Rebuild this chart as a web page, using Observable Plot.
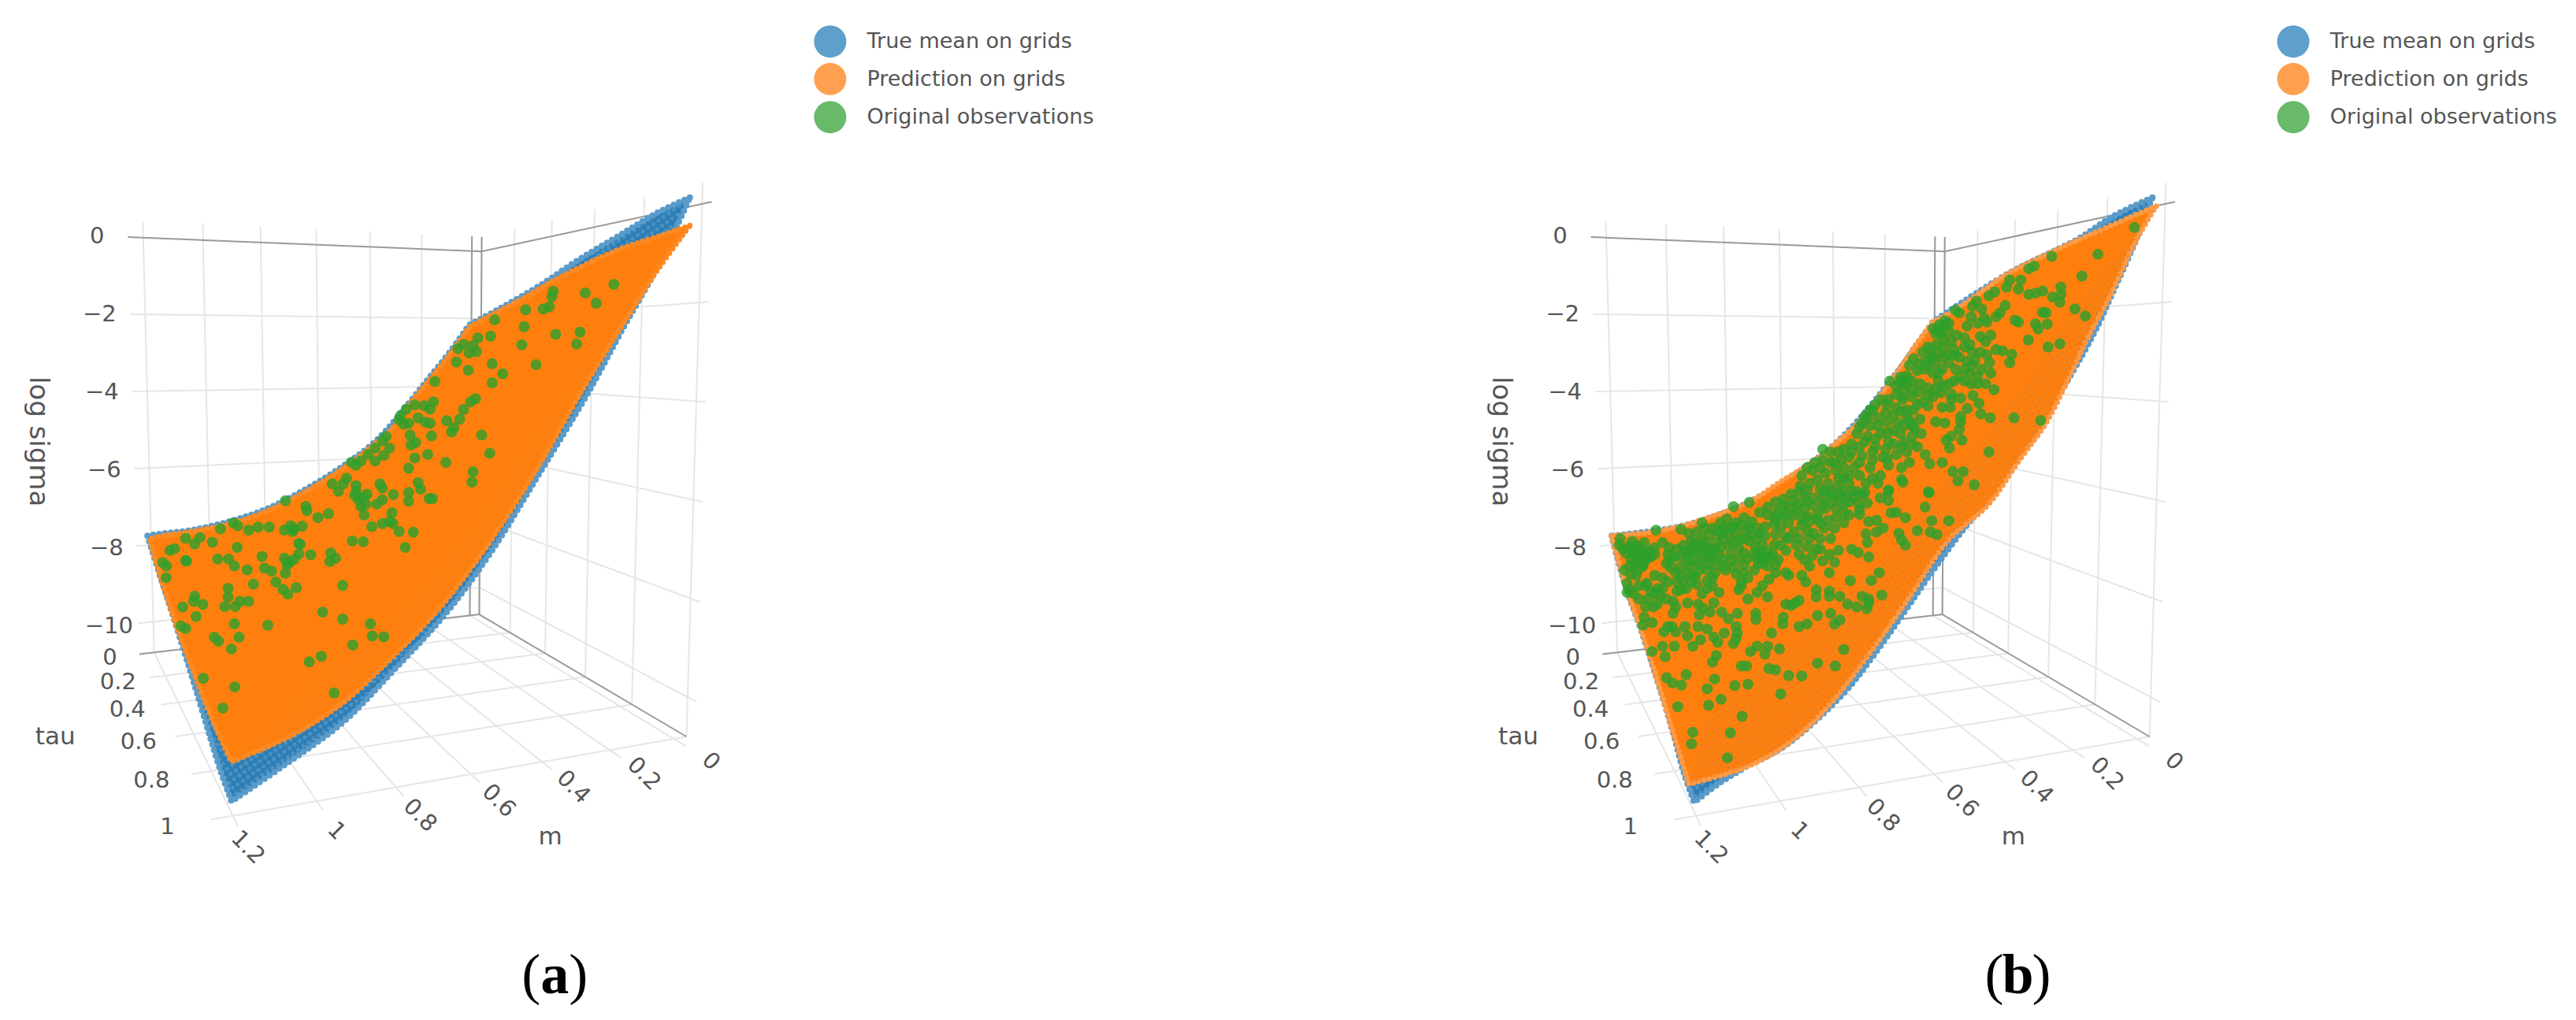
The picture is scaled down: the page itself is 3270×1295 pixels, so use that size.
<!DOCTYPE html>
<html><head><meta charset="utf-8">
<script src="https://cdn.jsdelivr.net/npm/d3@7"></script>
<script src="https://cdn.jsdelivr.net/npm/@observablehq/plot@0.6"></script>
<style>html,body{margin:0;background:#fff;overflow:hidden}#c{display:flex;width:3270px;height:1295px}svg{display:block;flex:none}</style>
</head><body><div id="c"></div>
<script>
const mTicks=[0,0.2,0.4,0.6,0.8,1,1.2];
const tauTicks=[0,0.2,0.4,0.6,0.8,1];
const zTicks=[0,-2,-4,-6,-8,-10];
const legendNames=["True mean on grids","Prediction on grids","Original observations"];
// Outlines and observations: positions on the view plane of the 3D scene
const blueA=[[1444,55],[1444,55],[1375,91],[1292,146],[1210,200],[1127,261],[1045,313],[982,350],[982,350],[940,415],[900,470],[860,525],[790,615],[720,675],[640,730],[560,775],[480,805],[400,825],[340,833],[308,838],[308,838],[340,950],[372,1060],[407,1185],[440,1307],[462,1385],[484,1453],[484,1453],[605,1361],[715,1272],[825,1148],[935,1015],[1028,875],[1130,692],[1232,505],[1303,360],[1381,206],[1444,55],[1444,55]];
const orangeA=[[1444,120],[1444,120],[1375,146],[1292,177],[1166,243],[1089,292],[1006,340],[982,355],[982,355],[940,420],[900,475],[860,530],[820,590],[790,620],[720,680],[640,735],[560,780],[480,810],[400,828],[340,838],[312,845],[312,845],[340,950],[370,1050],[410,1170],[450,1280],[484,1361],[484,1361],[605,1303],[715,1227],[825,1115],[918,1008],[1011,875],[1120,690],[1221,497],[1320,320],[1375,225],[1444,120],[1444,120]];
const blueB=[[1455,55],[1455,55],[1370,100],[1303,149],[1260,173],[1150,233],[995,343],[995,343],[920,460],[790,625],[610,760],[470,815],[322,838],[322,838],[350,950],[385,1060],[420,1180],[450,1290],[473,1385],[495,1455],[495,1455],[545,1413],[599,1376],[688,1322],[808,1203],[869,1118],[935,1015],[985,935],[1040,851],[1111,750],[1232,560],[1330,375],[1374,270],[1419,158],[1455,55],[1455,55]];
const orangeB=[[1463,75],[1463,75],[1254,176],[1150,233],[1089,279],[1040,316],[995,343],[995,343],[960,395],[920,460],[880,520],[840,575],[790,625],[740,670],[680,710],[610,760],[540,790],[470,815],[400,830],[322,838],[322,838],[350,950],[385,1060],[420,1180],[450,1290],[484,1413],[484,1413],[605,1373],[688,1322],[770,1240],[853,1125],[940,990],[1028,848],[1111,766],[1177,662],[1232,577],[1282,468],[1320,379],[1365,286],[1419,158],[1463,75],[1463,75]];
const orangeGrainB=[[1463,75],[1300,300],[1180,500],[1060,660],[950,820],[800,1000],[650,1130],[520,1260],[484,1413],[605,1373],[688,1322],[770,1240],[853,1125],[940,990],[1028,848],[1111,766],[1177,662],[1232,577],[1282,468],[1320,379],[1365,286],[1419,158],[1463,75]];
const orangeGrainA=[[1444,120],[1300,300],[1180,500],[1060,680],[950,850],[800,1030],[650,1170],[484,1361],[605,1303],[715,1227],[825,1115],[918,1008],[1011,875],[1120,690],[1221,497],[1320,320],[1375,225],[1444,120]];
const obsA=[[1285,256],[1225,276],[1248,300],[1158,272],[1155,285],[1150,308],[1137,313],[1100,315],[1097,354],[1035,338],[1027,376],[1000,380],[1163,372],[1214,367],[1207,394],[1092,396],[1122,442],[990,398],[970,395],[958,405],[997,412],[982,415],[955,436],[980,455],[1030,440],[1052,463],[1030,484],[910,481],[995,521],[985,528],[970,546],[962,568],[950,588],[945,598],[935,572],[907,528],[900,545],[888,537],[868,535],[850,545],[838,560],[835,570],[845,580],[855,578],[875,565],[890,575],[900,578],[903,607],[858,605],[870,622],[860,628],[808,608],[800,618],[815,635],[803,652],[785,635],[770,650],[755,665],[735,668],[745,675],[785,665],[895,650],[868,658],[855,682],[933,668],[1008,605],[1025,647],[990,690],[988,714],[875,715],[880,730],[855,738],[855,758],[905,752],[898,752],[823,743],[795,718],[800,728],[800,755],[788,765],[768,742],[760,750],[745,722],[745,735],[742,745],[750,755],[765,765],[755,770],[725,705],[718,718],[695,718],[708,735],[597,757],[640,770],[642,780],[665,796],[687,787],[820,785],[762,790],[800,810],[778,817],[815,805],[822,810],[835,828],[865,830],[848,865],[760,852],[737,850],[632,816],[615,822],[608,815],[595,825],[612,828],[488,808],[497,815],[461,822],[520,825],[540,818],[563,818],[388,844],[418,842],[407,857],[444,853],[365,868],[355,872],[340,900],[348,908],[347,935],[388,895],[390,897],[455,892],[478,892],[496,865],[490,908],[517,917],[548,886],[553,913],[568,920],[625,856],[628,858],[625,880],[650,882],[595,890],[605,900],[615,893],[600,905],[597,925],[692,878],[690,898],[702,890],[530,950],[577,945],[620,958],[592,962],[602,973],[717,953],[477,960],[477,980],[407,978],[405,990],[424,997],[382,1003],[470,1002],[492,1002],[502,990],[520,990],[410,1025],[378,1047],[388,1053],[490,1042],[560,1045],[675,1015],[717,1031],[775,1042],[779,1070],[803,1072],[738,1091],[500,1073],[448,1073],[457,1082],[484,1100],[672,1117],[647,1130],[425,1168],[491,1188],[466,1237],[699,1202]];
// panel (b), lower part of the surface, in full-size pixels ×3 from (2000,620)
const obsBLower=[[168,190],[165,215],[305,158],[400,155],[480,130],[600,68],[660,52],[430,170],[460,165],[490,150],[520,150],[550,130],[575,115],[610,130],[640,110],[670,125],[700,90],[730,70],[760,50],[790,40],[820,20],[850,10],[880,5],[945,10],[1000,20],[1050,10],[1090,20],[1160,35],[1190,10],[880,50],[905,65],[940,60],[975,50],[1005,40],[1040,50],[1075,55],[1110,55],[1190,45],[1345,15],[1330,70],[730,100],[770,85],[810,70],[845,60],[830,100],[790,110],[760,120],[880,105],[920,95],[950,75],[990,75],[1020,90],[1040,100],[1080,98],[1115,125],[1145,120],[1200,92],[1220,90],[1255,110],[1355,122],[1420,122],[610,170],[650,160],[690,150],[720,145],[755,135],[810,130],[860,115],[890,125],[920,115],[945,150],[1105,172],[1145,165],[1170,150],[1230,170],[1300,160],[1350,165],[1375,175],[440,200],[480,190],[510,175],[550,170],[580,175],[620,195],[660,200],[690,190],[720,180],[760,175],[800,185],[850,190],[880,160],[905,170],[930,190],[970,190],[1110,205],[1240,195],[1255,215],[200,220],[230,215],[260,205],[190,245],[220,250],[250,245],[280,235],[300,225],[210,270],[240,275],[270,265],[300,250],[255,295],[225,290],[185,310],[210,325],[230,330],[195,360],[205,385],[195,395],[330,205],[355,225],[350,250],[385,230],[410,215],[440,225],[470,220],[500,225],[530,230],[545,250],[510,250],[470,250],[430,250],[400,260],[375,260],[345,285],[360,300],[380,320],[400,330],[430,320],[445,330],[465,290],[455,335],[500,285],[530,285],[560,270],[590,245],[580,215],[620,225],[640,245],[685,225],[710,215],[700,250],[730,240],[755,215],[690,265],[710,285],[680,310],[640,290],[600,300],[570,310],[530,320],[500,350],[520,370],[545,395],[460,365],[480,400],[420,380],[400,385],[385,390],[350,355],[330,380],[300,400],[270,360],[265,370],[345,420],[310,440],[265,450],[240,420],[260,490],[290,510],[255,520],[770,270],[800,235],[810,330],[800,320],[760,320],[735,345],[710,370],[690,395],[655,420],[630,350],[620,385],[630,370],[850,250],[880,220],[915,228],[940,275],[965,250],[985,280],[1000,235],[1050,230],[1075,243],[1115,260],[860,330],[875,355],[890,295],[965,320],[1045,350],[1125,350],[1155,320],[915,385],[915,412],[965,390],[965,410],[1005,410],[1035,440],[1070,450],[1090,410],[1115,420],[1115,435],[1108,457],[1165,405],[730,412],[370,430],[380,450],[370,475],[425,435],[465,440],[485,455],[470,480],[510,470],[525,435],[555,470],[580,495],[615,475],[685,475],[685,498],[800,440],[820,445],[835,435],[850,425],[790,490],[788,515],[880,515],[850,525],[920,483],[970,475],[985,515],[1005,500],[350,525],[335,545],[365,525],[380,545],[415,525],[425,560],[465,525],[500,535],[525,565],[475,575],[445,600],[540,585],[565,550],[610,525],[615,550],[610,570],[600,590],[375,600],[330,600],[290,620],[340,640],[745,550],[690,600],[665,620],[720,630],[730,600],[775,610],[1020,612],[535,635],[520,660],[630,675],[650,675],[735,685],[760,690],[810,712],[860,713],[920,665],[988,675],[345,720],[368,740],[420,708],[402,748],[528,725],[500,762],[605,750],[655,745],[780,782],[388,830],[505,825],[553,802],[633,867],[588,930],[445,928],[440,972],[577,1025],
[215,235],[245,228],[270,245],[285,260],[235,255],[205,295],[240,305],[260,280],[215,200],[180,230],[415,240],[445,240],[485,235],[515,240],[455,210],[495,205],[535,205],[425,275],[455,270],[490,265],[520,265],[550,225],[540,160],[565,150],[600,145],[630,140],[660,145],[585,150],[560,190],[600,205],[640,190],[670,175],[700,170],[680,245],[705,240],[720,260],[695,285],[715,265],[740,260],[655,265],[620,265],[590,275],[560,295],[610,325],[640,320],[655,340],[500,310],[470,310],[430,295],[395,300],[360,270],[410,350],[385,355],[440,355],[500,380],[520,340],[760,100],[800,95],[840,85],[870,75],[790,65],[830,45],[870,30],[905,35],[940,35],[970,25],[1020,60],[1060,30],[1030,30],[1080,80],[860,140],[830,165],[780,150],[840,215],[810,190],[780,215],[750,250],[730,295],[760,290],[930,130],[960,120],[990,110],[1020,130],[985,150],[890,190],[930,230],[870,270],[900,255],[300,330],[285,390],[275,420],[310,380],[330,340],[295,450],[320,410],[240,370],[220,400]];
// panel (b), upper part of the surface, in full-size pixels ×3 from (2280,220)
const obsBUpper=[[1287,205],[1148,307],[1087,390],[972,315],[905,352],[885,362],[855,405],[812,405],[800,432],[845,440],[885,460],[910,455],[938,447],[1007,432],[1007,460],[975,470],[1003,490],[1060,515],[1100,542],[937,528],[950,530],[832,558],[845,565],[910,572],[955,573],[920,592],[883,633],[958,660],[1003,648],[755,450],[733,465],[795,502],[775,530],[760,545],[685,485],[670,505],[705,515],[620,530],[605,520],[665,545],[715,550],[690,570],[725,565],[650,580],[740,615],[565,560],[545,575],[520,590],[550,610],[580,600],[610,615],[640,625],[660,650],[700,620],[720,640],[760,670],[785,675],[820,688],[812,720],[500,660],[480,680],[445,705],[430,730],[510,700],[530,720],[560,660],[600,670],[620,700],[650,715],[680,710],[705,745],[735,720],[740,760],[690,770],[660,760],[605,745],[555,745],[520,760],[490,745],[460,750],[420,770],[395,775],[355,790],[380,810],[410,825],[470,800],[500,815],[540,790],[580,800],[620,775],[690,800],[720,800],[752,823],[672,845],[695,875],[650,895],[590,860],[550,835],[520,850],[480,870],[440,850],[400,850],[350,860],[320,860],[345,880],[380,890],[420,900],[460,880],[500,885],[555,890],[585,890],[702,915],[738,930],[828,930],[930,940],[625,925],[625,945],[530,945],[565,950],[620,975],[590,1000],[570,1015],[630,1015],[583,1045],[733,1060],[555,1100],[290,900],[260,925],[310,930],[345,945],[280,960],[240,965],[230,990],[270,1000],[320,990],[370,980],[410,960],[450,970],[475,990],[440,1000],[410,1020],[370,1030],[340,1050],[300,1040],[260,1020],[210,1030],[180,1050],[100,1050],[160,1060],[200,1080],[240,1100],[290,1090],[330,1080],[380,1070],[420,1060],[460,1040],[490,1070],[507,1105],[430,1100],[400,1120],[350,1110],[280,1120],[240,1150],[290,1160],[320,1150],[400,1165],[405,1175],[595,1135],[635,1135],[615,1170],[677,1185],[502,1212],[130,1100],[90,1120],[150,1130],[180,1160],[60,1130],[20,1150],[80,1165],[120,1180],[160,1190],[200,1180],[350,1205],[230,1210],[260,1215],
[540,590],[565,580],[580,570],[530,610],[560,630],[590,640],[535,650],[510,670],[540,680],[575,690],[605,690],[640,660],[670,680],[700,680],[725,690],[670,730],[640,745],[580,720],[560,700],[520,700],[490,715],[465,725],[500,730],[540,760],[395,795],[420,800],[440,790],[410,780],[380,840],[405,860],[440,825],[465,830],[500,845],[530,820],[560,810],[600,790],[640,790],[665,800],[590,840],[625,855],[445,900],[420,930],[400,905],[370,920],[340,910],[300,880],[280,900],[250,950],[270,930],[310,960],[345,985],[385,950],[430,940],[470,935],[440,960],[395,990],[350,1020],[300,1010],[240,1040],[210,1060],[170,1090],[130,1060],[100,1090],[70,1100],[40,1120],[110,1140],[145,1100],[180,1120],[220,1120],[250,1075],[290,1060],[345,1085],[400,1040],[440,1030],[265,1180],[310,1180],[200,1150],[160,1160],[50,1180],[90,1200],[15,1190],[130,1210],[175,1210]];
const SX=1.65, SY=1.823, W=1635, H=1295, TOP=220;
const fromCrop=(ox,oy)=>p=>[(ox+p[0]/3-1850)*SX,(oy+p[1]/3-TOP)*SY];
const obsB=[...obsBLower.map(fromCrop(2000,620)),...obsBUpper.map(fromCrop(2280,220))];

// Scene camera: m, tau and log sigma onto the view plane
const mMin=-0.04, mMax=1.2, zFloor=-10.8;
function project(m,tau,z){
  const s=(m-mMin)/(mMax-mMin), t=tau, w=(z-zFloor)/(0-zFloor);
  const den=1-0.10538*s-0.30146*t;
  const fx=-714.93*s+0.8*t+1003, fy=-28.76*s-109.8*t+1020;
  const tx=-740.5*s+18.8*t+1008, ty=-47.6*s-131.1*t+180;
  return [(fx*(1-w)+tx*w)/den,(fy*(1-w)+ty*w)/den];
}
const seg=(a,b)=>{const p=project(...a),q=project(...b);return {x1:p[0],y1:p[1],x2:q[0],y2:q[1]};};
const zTop=0.43;
const gridSegs=[
  ...mTicks.map(m=>seg([m,0,zFloor],[m,0,zTop])),
  ...tauTicks.map(t=>seg([mMin,t,zFloor],[mMin,t,zTop])),
  ...zTicks.slice(1).map(z=>seg([1.25,0,z],[mMin,0,z])),
  ...zTicks.slice(1).map(z=>seg([mMin,0,z],[mMin,1.03,z])),
  ...mTicks.map(m=>seg([m,0,zFloor],[m,1.04,zFloor])),
  ...tauTicks.map(t=>seg([mMin,t,zFloor],[1.25,t,zFloor]))
];
const axisSegs=[
  seg([1.25,0,0],[mMin,0,0]),seg([mMin,0,0],[mMin,1.03,0]),
  seg([1.25,0,zFloor],[mMin,0,zFloor]),seg([mMin,0,zFloor],[mMin,1,zFloor]),
  seg([0,0,zFloor],[0,0,zTop]),seg([mMin,0,zFloor],[mMin,0,zTop])
];
const at=(p)=>({x:p[0],y:p[1]});
const fmt=v=>String(v).replace("-","\u2212");
const zLabels=zTicks.map(z=>({...at(project(1.2+0.12*1.24,0,z)),t:fmt(z)}));
const tauLabels=tauTicks.map(t=>({...at(project(1.2+0.12*1.24,t,zFloor)),t:fmt(t)}));
const mLabels=mTicks.map(m=>({...at(project(m,1.12,zFloor)),t:fmt(m)}));
const axisTitles=[{t:"log sigma",x:80,y:620,r:90,f:34},{t:"tau",x:115,y:1302,r:0,f:31},{t:"m",x:1152,y:1535,r:0,f:31}];
const legendX=1738, legendTextX=1815, legendYs=[-306,-219,-131];
const legendColors=["#5f9fcb","#ffa050","#68b968"];

function panel(originX,shift,blue,orange,grain,obs,letter){
  const sh=d=>d.map(r=>({...r,x:r.x+shift}));
  const shs=d=>d.map(r=>({...r,x1:r.x1+shift,x2:r.x2+shift}));
  const txt="#555";
  const font="DejaVu Sans";
  const legend=legendNames.map((n,i)=>({n,c:legendColors[i],x:legendX+shift,y:legendYs[i]}));
  const capX=1161+shift;
  const capY=1854;
  const id="p"+letter;
  const svg=Plot.plot({
    width:W,height:H,margin:0,
    style:{background:"#fff"},
    x:{axis:null,domain:[-originX*SX,(W-originX)*SX],range:[0,W]},
    y:{axis:null,domain:[-TOP*SY,(H-TOP)*SY],range:[0,H]},
    marks:[
      Plot.link(shs(gridSegs),{x1:"x1",y1:"y1",x2:"x2",y2:"y2",stroke:"#e6e6e6",strokeWidth:2}),
      Plot.link(shs(axisSegs),{x1:"x1",y1:"y1",x2:"x2",y2:"y2",stroke:"#9a9a9a",strokeWidth:2}),
      Plot.line(blue,{x:d=>d[0],y:d=>d[1],curve:"catmull-rom",fill:`url(#${id}blue)`,stroke:"none"}),
      Plot.line(blue,{x:d=>d[0],y:d=>d[1],curve:"catmull-rom",stroke:"#5a9bc9",strokeWidth:8,strokeDasharray:"0,7.5",strokeLinecap:"round"}),
      Plot.line(orange,{x:d=>d[0],y:d=>d[1],curve:"catmull-rom",fill:"#ff7f0e",stroke:"none"}),
      Plot.line(orange,{x:d=>d[0],y:d=>d[1],curve:"catmull-rom",stroke:letter=="b"?"#ff9a45":"#ff8a22",strokeWidth:7,strokeDasharray:"0,7",strokeLinecap:"round"}),
      Plot.line(grain,{x:d=>d[0],y:d=>d[1],fill:`url(#${id}grain)`,stroke:"none"}),
      Plot.dot(obs,{x:d=>d[0],y:d=>d[1],r:7,fill:"#2ca02c",fillOpacity:0.8,stroke:"none"}),
      Plot.text(sh(zLabels),{x:"x",y:"y",text:"t",fontSize:29,fontFamily:font,fill:txt}),
      Plot.text(sh(tauLabels),{x:"x",y:"y",text:"t",fontSize:29,fontFamily:font,fill:txt}),
      Plot.text(sh(mLabels),{x:"x",y:"y",text:"t",fontSize:29,fontFamily:font,fill:txt,rotate:45}),
      Plot.text(sh(axisTitles),{x:"x",y:"y",text:"t",rotate:"r",fontSize:"f",fontFamily:font,fill:txt}),
      Plot.dot(legend,{x:"x",y:"y",r:20.5,fill:"c"}),
      Plot.text(legend,{x:legendTextX+shift,y:"y",text:"n",textAnchor:"start",fontSize:27,fontFamily:font,fill:txt}),
      Plot.text([{t:"("}],{x:capX-49.5,y:capY,text:"t",fontSize:72,fontFamily:"Liberation Serif",fill:"#000"}),
      Plot.text([{t:letter}],{x:capX,y:capY,text:"t",fontSize:72,fontWeight:"bold",fontFamily:"Liberation Serif",fill:"#000"}),
      Plot.text([{t:")"}],{x:capX+49.5,y:capY,text:"t",fontSize:72,fontFamily:"Liberation Serif",fill:"#000"})
    ]
  });
  const grainOpacity=letter=="b"?0.75:0.22;
  const defs=d3.select(svg).insert("defs",":first-child");
  const pb=defs.append("pattern").attr("id",id+"blue").attr("width",8).attr("height",8).attr("patternUnits","userSpaceOnUse").attr("patternTransform","rotate(-35)");
  pb.append("rect").attr("width",8).attr("height",8).attr("fill","#2d7db5");
  pb.append("circle").attr("cx",4).attr("cy",4).attr("r",2.6).attr("fill","#4a92c5");
  const pg=defs.append("pattern").attr("id",id+"grain").attr("width",7).attr("height",7).attr("patternUnits","userSpaceOnUse").attr("patternTransform","rotate(-30)");
  pg.append("circle").attr("cx",3.5).attr("cy",3.5).attr("r",1.5).attr("fill","#c9803a").attr("opacity",grainOpacity);
  return svg;
}
const c=document.getElementById("c");
c.append(panel(0,0,blueA,orangeA,orangeGrainA,obsA,"a"));
c.append(panel(215,12,blueB,orangeB,orangeGrainB,obsB,"b"));
</script></body></html>
